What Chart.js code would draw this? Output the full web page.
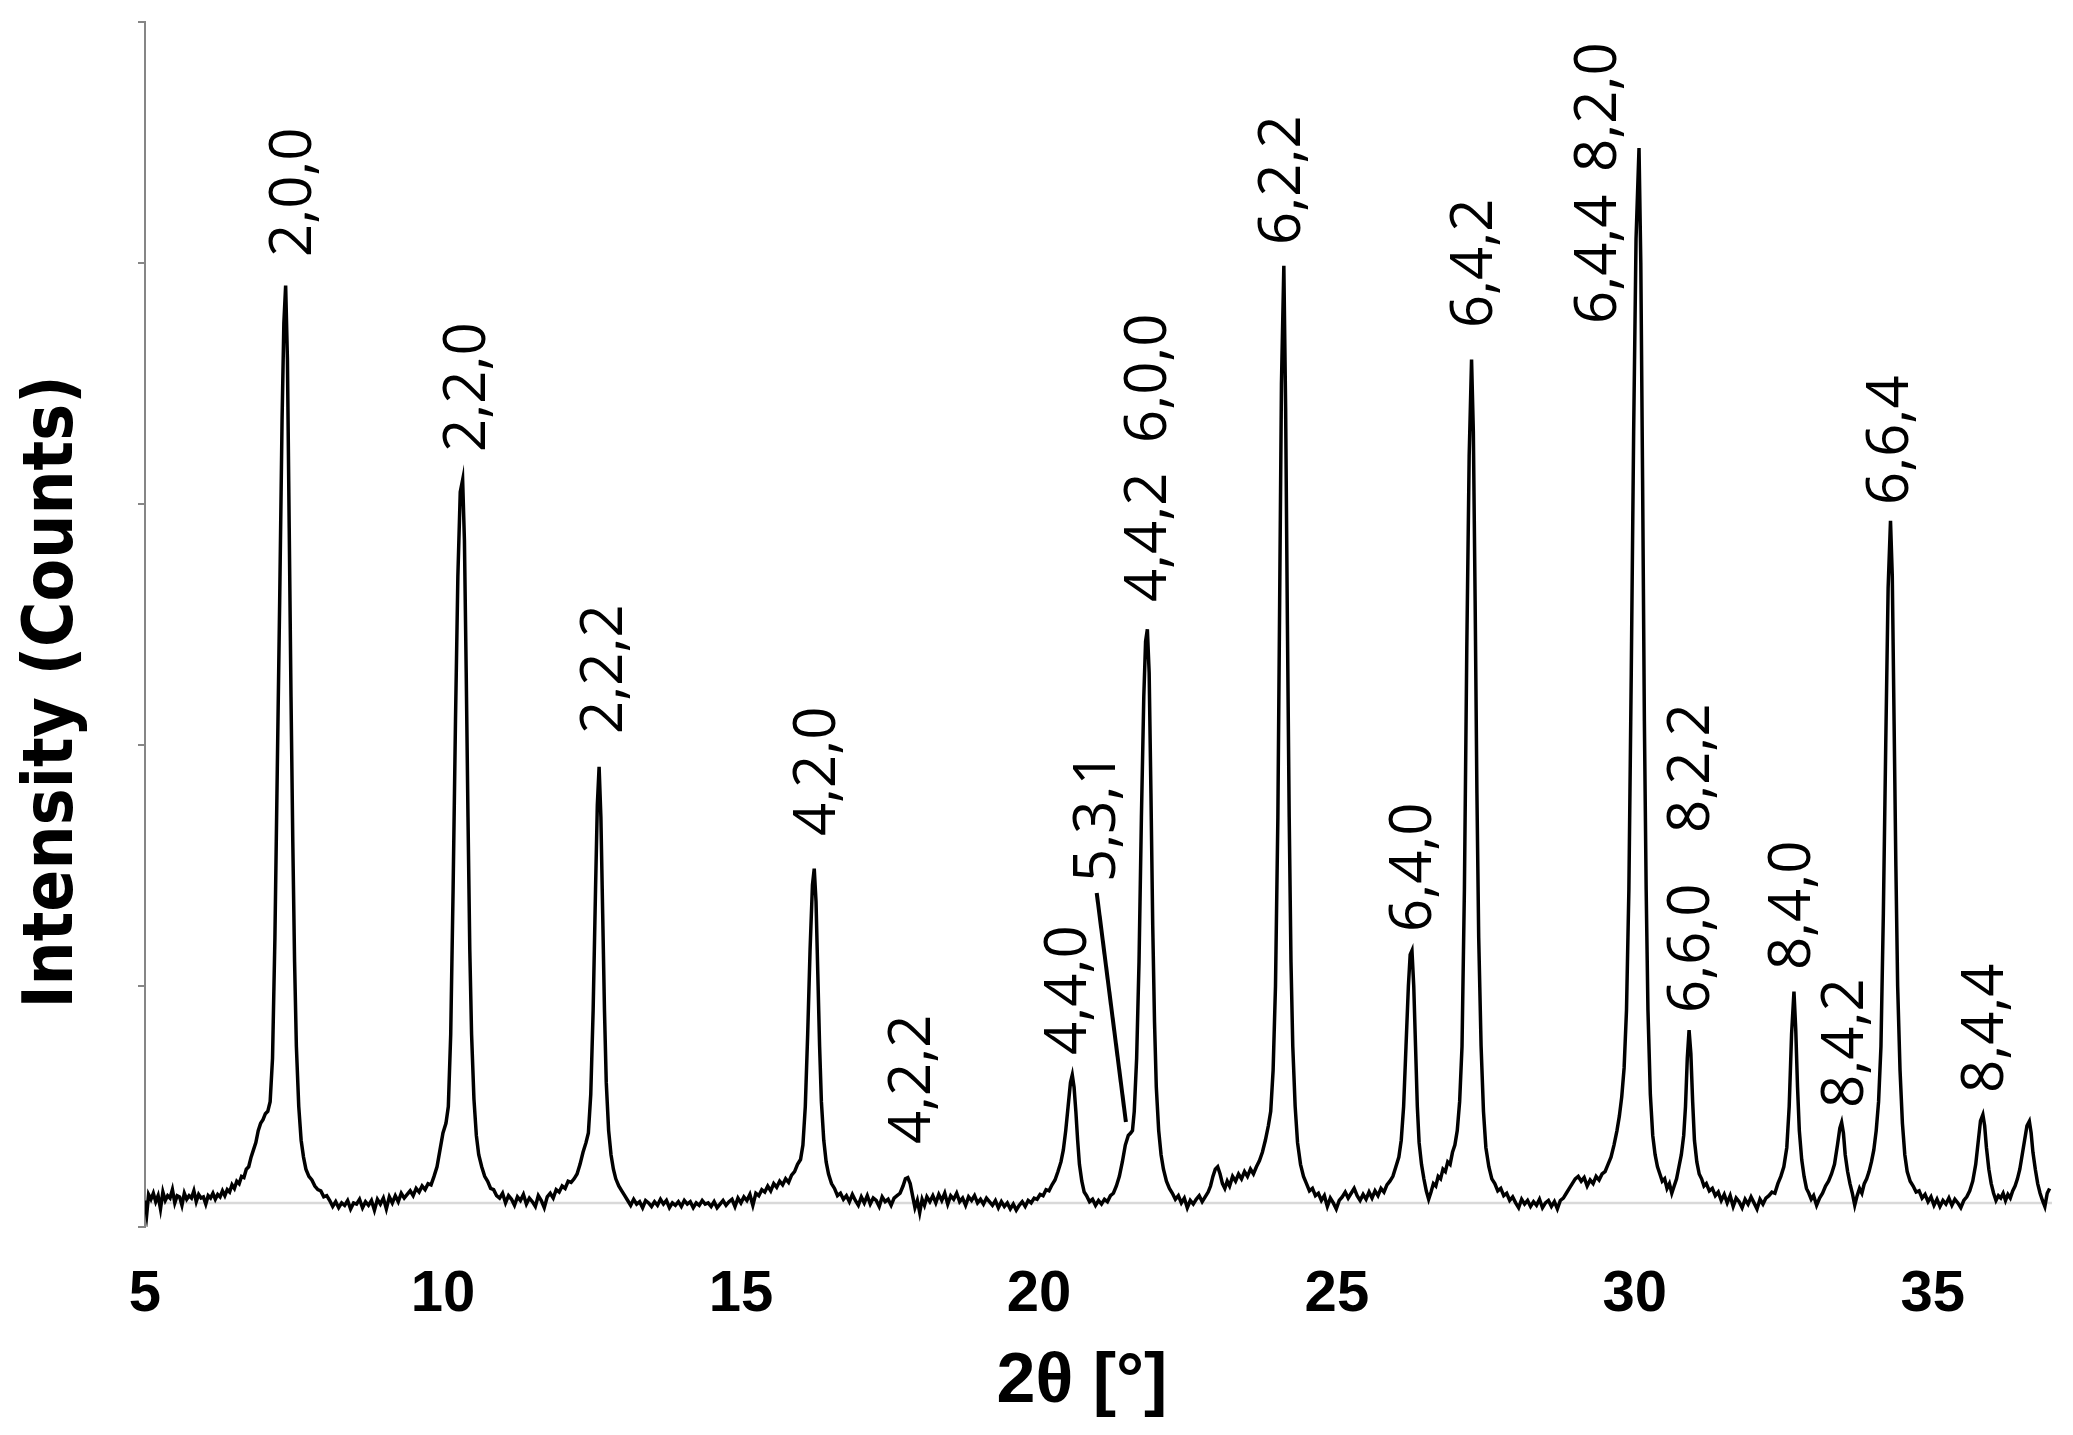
<!DOCTYPE html>
<html lang="en">
<head>
<meta charset="UTF-8">
<title>XRD pattern</title>
<script src="https://cdn.jsdelivr.net/npm/chart.js"></script>
<style>
  body { margin: 0; background: #fff; }
  canvas { display: block; }
</style>
</head>
<body>
<canvas id="xrdChart" width="2073" height="1435"></canvas>
<script>
// [2θ (°), counts]
const scan = [
  [5.00, 10], [5.03, -45], [5.06, 35], [5.10, 15], [5.14, 40], [5.18, 5], [5.22, 30], [5.26, -25], [5.30, 45], [5.34, 10],
  [5.38, 30], [5.42, 20], [5.46, 55], [5.50, 0], [5.54, 30], [5.58, 25], [5.62, -10], [5.66, 40], [5.70, 15], [5.74, 30],
  [5.78, 20], [5.82, 50], [5.86, 5], [5.90, 35], [5.94, 20], [5.98, 25], [6.02, -5], [6.06, 30], [6.10, 20], [6.14, 40],
  [6.18, 15], [6.22, 35], [6.26, 25], [6.30, 50], [6.34, 30], [6.38, 55], [6.42, 45], [6.46, 75], [6.50, 60], [6.54, 90],
  [6.58, 80], [6.62, 110], [6.66, 105], [6.70, 140], [6.74, 150], [6.78, 190], [6.82, 220], [6.86, 250], [6.90, 300], [6.94, 330],
  [6.98, 345], [7.02, 370], [7.06, 380], [7.10, 420], [7.14, 600], [7.18, 1100], [7.22, 1800], [7.26, 2500], [7.30, 3250], [7.33, 3650],
  [7.36, 3806], [7.39, 3500], [7.42, 2800], [7.45, 2100], [7.48, 1500], [7.51, 1000], [7.54, 650], [7.58, 400], [7.62, 260], [7.66, 190],
  [7.70, 140], [7.75, 110], [7.80, 95], [7.85, 70], [7.90, 55], [7.95, 50], [8.00, 25], [8.05, 30], [8.10, 10], [8.15, -15],
  [8.20, 5], [8.25, -20], [8.30, 0], [8.35, -10], [8.40, 10], [8.45, -25], [8.50, 0], [8.55, -5], [8.60, 15], [8.65, -20],
  [8.70, 5], [8.75, -10], [8.80, 10], [8.85, -30], [8.90, 15], [8.95, -5], [9.00, 20], [9.05, -25], [9.10, 25], [9.15, 0],
  [9.20, 30], [9.25, 5], [9.30, 40], [9.35, 20], [9.40, 35], [9.45, 50], [9.50, 30], [9.55, 60], [9.60, 45], [9.65, 70],
  [9.70, 55], [9.75, 80], [9.80, 75], [9.85, 110], [9.90, 150], [9.95, 220], [10.00, 290], [10.05, 330], [10.09, 400], [10.13, 700],
  [10.17, 1300], [10.21, 2000], [10.25, 2600], [10.29, 2950], [10.33, 3000], [10.36, 2750], [10.39, 2200], [10.42, 1600], [10.45, 1050], [10.48, 700],
  [10.52, 430], [10.56, 280], [10.60, 200], [10.65, 150], [10.70, 110], [10.75, 90], [10.80, 60], [10.85, 55], [10.90, 30], [10.95, 20],
  [11.00, 40], [11.05, 0], [11.10, 30], [11.15, 15], [11.20, -10], [11.25, 25], [11.30, 10], [11.35, 35], [11.40, -5], [11.45, 20],
  [11.50, 5], [11.55, -15], [11.60, 30], [11.65, 10], [11.70, -20], [11.75, 25], [11.80, 40], [11.85, 20], [11.90, 55], [11.95, 45],
  [12.00, 70], [12.05, 60], [12.10, 90], [12.15, 85], [12.20, 100], [12.25, 120], [12.30, 160], [12.35, 210], [12.40, 250], [12.44, 290],
  [12.48, 450], [12.52, 800], [12.56, 1300], [12.59, 1650], [12.62, 1809], [12.65, 1600], [12.68, 1200], [12.71, 800], [12.74, 500], [12.78, 300],
  [12.82, 200], [12.86, 140], [12.90, 100], [12.95, 70], [13.00, 50], [13.05, 30], [13.10, 10], [13.15, -10], [13.20, 15], [13.25, -5],
  [13.30, 5], [13.35, -20], [13.40, 10], [13.45, 0], [13.50, -15], [13.55, 5], [13.60, -10], [13.65, 15], [13.70, -5], [13.75, 10],
  [13.80, -20], [13.85, 0], [13.90, -10], [13.95, 5], [14.00, -15], [14.05, 10], [14.10, -5], [14.15, 5], [14.20, -20], [14.25, 0],
  [14.30, -10], [14.35, 10], [14.40, -5], [14.45, 0], [14.50, -15], [14.55, 5], [14.60, -20], [14.65, -5], [14.70, 10], [14.75, -10],
  [14.80, 5], [14.85, 15], [14.90, -15], [14.95, 20], [15.00, 0], [15.05, 25], [15.10, 10], [15.15, 35], [15.20, -10], [15.25, 40],
  [15.30, 30], [15.35, 55], [15.40, 45], [15.45, 70], [15.50, 50], [15.55, 80], [15.60, 65], [15.65, 90], [15.70, 75], [15.75, 100],
  [15.80, 85], [15.85, 115], [15.90, 130], [15.95, 160], [16.00, 180], [16.04, 240], [16.08, 400], [16.12, 700], [16.16, 1050], [16.20, 1320],
  [16.23, 1387], [16.26, 1250], [16.29, 950], [16.32, 650], [16.35, 420], [16.39, 260], [16.43, 170], [16.47, 120], [16.52, 80], [16.57, 60],
  [16.62, 30], [16.67, 40], [16.72, 15], [16.77, 30], [16.82, 5], [16.87, 35], [16.92, 10], [16.97, -10], [17.02, 25], [17.07, 0],
  [17.12, 30], [17.17, -5], [17.22, 20], [17.27, 10], [17.32, -15], [17.37, 25], [17.42, 5], [17.47, 15], [17.52, -10], [17.57, 20],
  [17.62, 30], [17.67, 40], [17.72, 70], [17.76, 100], [17.80, 105], [17.84, 80], [17.88, 30], [17.92, -20], [17.96, 10], [18.00, -40],
  [18.04, 15], [18.08, -10], [18.12, 25], [18.17, 5], [18.22, 30], [18.27, 0], [18.32, 35], [18.37, 10], [18.42, 40], [18.47, -5],
  [18.52, 30], [18.57, 15], [18.62, 40], [18.67, 5], [18.72, 20], [18.77, -10], [18.82, 25], [18.87, 10], [18.92, 30], [18.97, 0],
  [19.02, 15], [19.07, -5], [19.12, 20], [19.17, 5], [19.22, -10], [19.27, 10], [19.32, -20], [19.37, 5], [19.42, -15], [19.47, 0],
  [19.52, -25], [19.57, -5], [19.62, -30], [19.67, -10], [19.72, 5], [19.77, -15], [19.82, 10], [19.87, 0], [19.92, 20], [19.97, 15],
  [20.02, 35], [20.07, 30], [20.12, 55], [20.17, 50], [20.22, 75], [20.27, 95], [20.32, 130], [20.37, 170], [20.41, 220], [20.45, 300],
  [20.49, 400], [20.53, 500], [20.56, 531], [20.59, 480], [20.62, 380], [20.65, 260], [20.68, 160], [20.72, 90], [20.76, 45], [20.80, 30],
  [20.85, 5], [20.90, 15], [20.95, -10], [21.00, 10], [21.05, -5], [21.10, 15], [21.15, 5], [21.20, 30], [21.25, 40], [21.30, 70],
  [21.35, 110], [21.40, 170], [21.45, 240], [21.50, 280], [21.54, 290], [21.57, 300], [21.60, 380], [21.64, 600], [21.68, 1000], [21.72, 1600],
  [21.76, 2100], [21.79, 2330], [21.82, 2380], [21.85, 2200], [21.88, 1700], [21.91, 1150], [21.94, 750], [21.97, 480], [22.01, 300], [22.05, 200],
  [22.09, 140], [22.14, 90], [22.19, 60], [22.24, 40], [22.29, 15], [22.34, 30], [22.39, 0], [22.44, 20], [22.49, -20], [22.54, 10],
  [22.59, -5], [22.64, 15], [22.69, 30], [22.74, 5], [22.79, 25], [22.84, 45], [22.88, 70], [22.92, 110], [22.96, 140], [23.00, 150],
  [23.04, 120], [23.08, 80], [23.12, 60], [23.16, 90], [23.20, 70], [23.25, 110], [23.30, 90], [23.35, 120], [23.40, 100], [23.45, 130],
  [23.50, 110], [23.55, 140], [23.60, 120], [23.65, 150], [23.70, 175], [23.75, 210], [23.80, 260], [23.85, 320], [23.89, 380], [23.93, 550],
  [23.97, 900], [24.01, 1600], [24.04, 2500], [24.07, 3400], [24.11, 3888], [24.14, 3300], [24.17, 2400], [24.20, 1600], [24.23, 1000], [24.26, 650],
  [24.30, 400], [24.34, 250], [24.39, 160], [24.44, 110], [24.49, 80], [24.54, 50], [24.59, 60], [24.64, 30], [24.69, 40], [24.74, 10],
  [24.79, 30], [24.84, -15], [24.89, 20], [24.94, 0], [24.99, -25], [25.04, 10], [25.09, 25], [25.14, 45], [25.19, 20], [25.24, 40],
  [25.29, 60], [25.34, 30], [25.39, 10], [25.44, 35], [25.49, 15], [25.54, 45], [25.59, 20], [25.64, 50], [25.69, 30], [25.74, 60],
  [25.79, 45], [25.84, 75], [25.89, 90], [25.94, 110], [25.99, 150], [26.04, 190], [26.08, 260], [26.12, 400], [26.16, 650], [26.20, 900],
  [26.23, 1030], [26.26, 1047], [26.29, 900], [26.32, 650], [26.35, 400], [26.38, 250], [26.42, 160], [26.46, 100], [26.50, 50], [26.54, 15],
  [26.58, 45], [26.62, 80], [26.66, 70], [26.70, 110], [26.74, 100], [26.78, 140], [26.82, 130], [26.86, 170], [26.90, 160], [26.94, 210],
  [26.98, 240], [27.02, 300], [27.06, 420], [27.10, 650], [27.14, 1300], [27.18, 2300], [27.22, 3100], [27.26, 3499], [27.29, 3200], [27.32, 2500],
  [27.35, 1700], [27.38, 1100], [27.42, 650], [27.46, 380], [27.50, 230], [27.55, 150], [27.60, 100], [27.65, 80], [27.70, 50], [27.75, 60],
  [27.80, 30], [27.85, 40], [27.90, 10], [27.95, 25], [28.00, 0], [28.05, -20], [28.10, 15], [28.15, -5], [28.20, 10], [28.25, -15],
  [28.30, 5], [28.35, -10], [28.40, 15], [28.45, -20], [28.50, 0], [28.55, 10], [28.60, -15], [28.65, 5], [28.70, -25], [28.75, 10],
  [28.80, 20], [28.85, 40], [28.90, 60], [28.95, 80], [29.00, 100], [29.05, 110], [29.10, 90], [29.15, 105], [29.20, 70], [29.25, 95],
  [29.30, 80], [29.35, 110], [29.40, 95], [29.45, 120], [29.50, 130], [29.55, 160], [29.60, 190], [29.65, 240], [29.70, 300], [29.74, 360],
  [29.78, 440], [29.82, 560], [29.86, 800], [29.90, 1300], [29.94, 2200], [29.98, 3200], [30.02, 4000], [30.07, 4377], [30.10, 3900], [30.13, 3000],
  [30.16, 2000], [30.19, 1300], [30.22, 800], [30.26, 450], [30.30, 280], [30.34, 200], [30.38, 150], [30.42, 120], [30.46, 90], [30.50, 100],
  [30.54, 60], [30.58, 80], [30.62, 40], [30.66, 70], [30.70, 100], [30.74, 150], [30.78, 200], [30.82, 280], [30.85, 400], [30.88, 600],
  [30.91, 717], [30.94, 620], [30.97, 420], [31.00, 260], [31.04, 170], [31.08, 120], [31.12, 100], [31.16, 70], [31.20, 80], [31.25, 50],
  [31.30, 60], [31.35, 30], [31.40, 45], [31.45, 10], [31.50, 35], [31.55, 0], [31.60, 30], [31.65, -15], [31.70, 20], [31.75, 5],
  [31.80, -20], [31.85, 15], [31.90, -5], [31.95, 25], [32.00, 0], [32.05, -25], [32.10, 15], [32.15, -5], [32.20, 20], [32.25, 30],
  [32.30, 45], [32.35, 40], [32.40, 80], [32.45, 110], [32.50, 150], [32.55, 230], [32.59, 400], [32.63, 700], [32.67, 877], [32.70, 720],
  [32.73, 480], [32.76, 300], [32.80, 180], [32.84, 110], [32.88, 60], [32.92, 40], [32.96, 15], [33.00, 30], [33.05, -10], [33.10, 20],
  [33.15, 40], [33.20, 70], [33.25, 90], [33.30, 120], [33.35, 160], [33.40, 240], [33.44, 310], [33.47, 334], [33.50, 290], [33.53, 200],
  [33.57, 130], [33.61, 80], [33.65, 40], [33.69, -10], [33.73, 30], [33.77, 60], [33.81, 40], [33.85, 80], [33.89, 100], [33.93, 130],
  [33.97, 170], [34.01, 220], [34.05, 300], [34.09, 420], [34.13, 650], [34.17, 1200], [34.21, 1900], [34.25, 2550], [34.29, 2830], [34.32, 2600],
  [34.35, 2000], [34.38, 1400], [34.41, 900], [34.45, 550], [34.49, 330], [34.53, 200], [34.57, 130], [34.62, 90], [34.67, 70], [34.72, 45],
  [34.77, 50], [34.82, 20], [34.87, 35], [34.92, 5], [34.97, 25], [35.02, -10], [35.07, 15], [35.12, -15], [35.17, 10], [35.22, -5],
  [35.27, 20], [35.32, -10], [35.37, 15], [35.42, 0], [35.47, -20], [35.52, 10], [35.57, 25], [35.62, 50], [35.67, 90], [35.72, 160],
  [35.76, 250], [35.80, 340], [35.84, 366], [35.87, 320], [35.90, 230], [35.94, 140], [35.98, 80], [36.02, 40], [36.06, 10], [36.10, 30],
  [36.14, 20], [36.18, 40], [36.22, 10], [36.26, 35], [36.30, 20], [36.34, 50], [36.38, 70], [36.42, 100], [36.46, 140], [36.50, 200],
  [36.54, 260], [36.58, 320], [36.62, 339], [36.65, 290], [36.68, 210], [36.72, 140], [36.76, 80], [36.80, 40], [36.84, 10], [36.88, -15],
  [36.92, 40], [36.96, 60]
];

const xTicks = [5, 10, 15, 20, 25, 30, 35];
const yTicks = [-100, 900, 1900, 2900, 3900, 4900];

// Miller indices, 2θ of the text, counts where the text starts
const hkl      = ['2,0,0', '2,2,0', '2,2,2', '4,2,0', '4,2,2', '4,4,0', '5,3,1', '4,4,2', '6,0,0', '6,2,2',
                  '6,4,0', '6,4,2', '6,4,4', '8,2,0', '6,6,0', '8,2,2', '8,4,0', '8,4,2', '6,6,4', '8,4,4'];
const hklAngle = [7.50, 10.42, 12.72, 16.30, 17.90, 20.52, 21.00, 21.86, 21.86, 24.10,
                  26.30, 27.33, 29.40, 29.40, 30.96, 30.96, 32.66, 33.55, 34.30, 35.90];
const hklBase  = [3925, 3116, 1946, 1522, 244, 614, 1332, 2493, 3153, 3975,
                  1124, 3630, 3647, 4278, 788, 1535, 966, 394, 2896, 456];

// leader from the 5,3,1 label to its shoulder
const leader = [[20.97, 1286], [21.46, 336]];

const annotate = {
  id: 'annotate',
  beforeDatasetsDraw(chart) {
    const {ctx, chartArea, scales: {y}} = chart;
    const y0 = y.getPixelForValue(0);
    ctx.save();
    ctx.strokeStyle = '#d9d9d9';
    ctx.lineWidth = 2.5;
    ctx.beginPath();
    ctx.moveTo(chartArea.left, y0);
    ctx.lineTo(chartArea.right, y0);
    ctx.stroke();
    ctx.restore();
  },
  afterDatasetsDraw(chart) {
    const {ctx, scales: {x, y}} = chart;
    ctx.save();
    ctx.fillStyle = '#000';
    ctx.font = '58px "Open Sans"';
    ctx.textAlign = 'left';
    ctx.textBaseline = 'middle';
    hkl.forEach((text, i) => {
      ctx.save();
      ctx.translate(x.getPixelForValue(hklAngle[i]), y.getPixelForValue(hklBase[i]));
      ctx.rotate(-Math.PI / 2);
      ctx.fillText(text, 0, 0);
      ctx.restore();
    });
    ctx.strokeStyle = '#000';
    ctx.lineWidth = 4;
    ctx.beginPath();
    ctx.moveTo(x.getPixelForValue(leader[0][0]), y.getPixelForValue(leader[0][1]));
    ctx.lineTo(x.getPixelForValue(leader[1][0]), y.getPixelForValue(leader[1][1]));
    ctx.stroke();
    ctx.restore();
  },
  afterDraw(chart) {
    // axis titles, placed where the original puts them
    const {ctx} = chart;
    ctx.save();
    ctx.fillStyle = '#000';
    ctx.textAlign = 'center';
    ctx.textBaseline = 'middle';
    ctx.font = 'bold 70px "Liberation Sans"';
    ctx.fillText('2θ [°]', 1082, 1383);
    ctx.translate(54, 692);
    ctx.rotate(-Math.PI / 2);
    ctx.font = 'bold 69px "Liberation Sans Narrow", "DejaVu Sans Condensed", sans-serif';
    ctx.fillText('Intensity (Counts)', 0, 0);
    ctx.restore();
  }
};

new Chart(document.getElementById('xrdChart'), {
  type: 'line',
  data: {
    datasets: [{
      data: scan.map(p => ({x: p[0], y: p[1]})),
      borderColor: '#000',
      borderWidth: 3.5,
      pointRadius: 0,
      tension: 0
    }]
  },
  options: {
    responsive: false,
    animation: false,
    layout: { padding: { top: 22, right: 21, left: 0, bottom: 0 }, autoPadding: false },
    plugins: { legend: { display: false }, tooltip: { enabled: false } },
    scales: {
      x: {
        type: 'linear',
        min: 5,
        max: 37,
        afterBuildTicks: s => { s.ticks = xTicks.map(v => ({value: v})); },
        afterFit: s => { s.height = 208; },
        grid: { display: false },
        border: { display: false },
        ticks: {
          color: '#000',
          padding: 25,
          maxRotation: 0,
          font: { family: '"Liberation Sans"', size: 58, weight: 'bold' }
        }
      },
      y: {
        min: -100,
        max: 4900,
        afterBuildTicks: s => { s.ticks = yTicks.map(v => ({value: v})); },
        afterFit: s => { s.width = 145; },
        grid: { drawOnChartArea: false, drawTicks: true, tickLength: 7, color: '#868686', lineWidth: 2 },
        border: { display: true, color: '#868686', width: 2 },
        ticks: { display: false }
      }
    }
  },
  plugins: [annotate]
});
</script>
</body>
</html>
